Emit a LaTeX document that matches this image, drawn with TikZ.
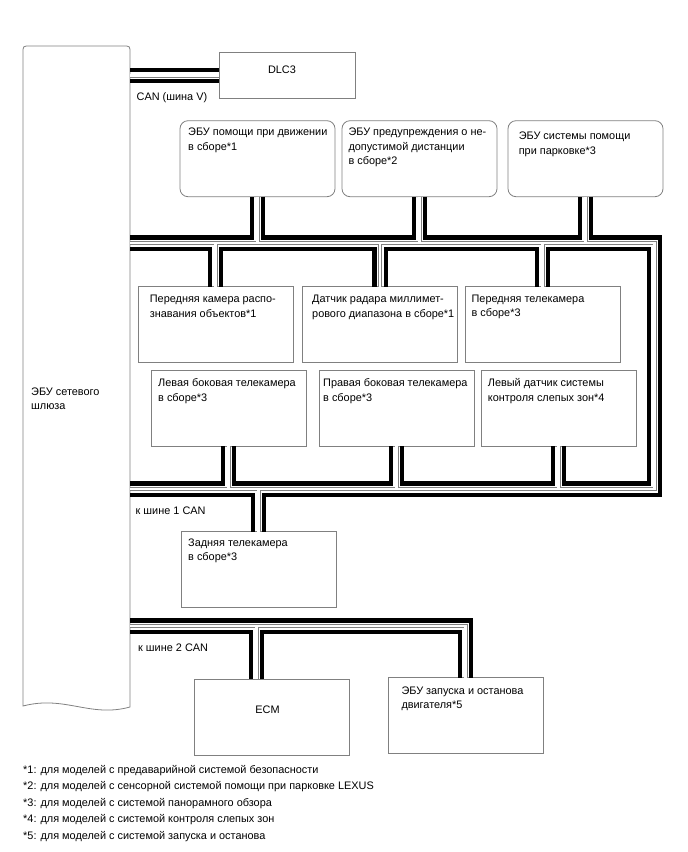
\documentclass[tikz,border=0pt]{standalone}
\usepackage{fontspec}
\setmainfont{Liberation Sans}
\usetikzlibrary{calc}
\def\wof{5.6}
\begin{document}
\begin{tikzpicture}[x=1pt,y=-1pt,
  wire/.style={line width=4.2pt,line join=miter,line cap=butt},
  band/.style={draw=gray,line width=0.8pt,double=white,double distance=2.4pt,line join=miter,line cap=butt},
  box/.style={draw=gray,line width=0.8pt,minimum width=155pt,minimum height=76pt,anchor=north west,inner sep=0pt,outer sep=0pt},
  rbox/.style={box,rounded corners=8pt},
  txt/.style={anchor=north west,inner sep=0pt,align=left,font=\fontsize{10.9}{14.5}\selectfont,execute at begin node={\rule{0pt}{8pt}}},
  ctxt/.style={inner sep=0pt,font=\fontsize{10.9}{14.5}\selectfont},
  shape gw/.style={draw=gray,line width=0.8pt}
]
\useasboundingbox (0,0) rectangle (688,852);

% gateway
\draw[shape gw] (23,706) -- (23,53) .. controls (23,46) .. (30,46) -- (123,46)
   .. controls (130,46) .. (130,53) -- (130,707) .. controls (90,718) and (65,695) .. (23,706) -- cycle;
\coordinate (gw) at (130,0);
\node[txt] (tgw) at (31,387.6) {ЭБУ сетевого\\шлюза};

% boxes
\node[box,minimum width=136pt,minimum height=46pt] (dlc) at (219,52.3) {};
\node[ctxt] (tdlc) at (282,69.3) {DLC3};

\node[rbox] (A) at (180,120.7) {};
\node[rbox] (B) at (342,120.7) {};
\node[rbox] (C) at (508,120.7) {};
\node[box] (M1) at (138,286.7) {};
\node[box] (M2) at (302.5,286.7) {};
\node[box] (M3) at (465,286.7) {};
\node[box] (L1) at (151,370) {};
\node[box] (L2) at (319,370) {};
\node[box] (L3) at (481,370) {};
\node[box] (R) at (181,531.7) {};
\node[box] (E) at (194.5,679.3) {};
\node[box] (G) at (388,677.7) {};

% texts
\node[txt] (tA) at (188,128) {ЭБУ помощи при движении\\в сборе*1};
\node[txt] (tB) at (348.3,128) {ЭБУ предупреждения о не-\\допустимой дистанции\\в сборе*2};
\node[txt] (tC) at (518.6,132) {ЭБУ системы помощи\\при парковке*3};
\node[txt] (tM1) at (149.7,295) {Передняя камера распо-\\знавания объектов*1};
\node[txt] (tM2) at (312,295) {Датчик радара миллимет-\\рового диапазона в сборе*1};
\node[txt] (tM3) at (471.4,294.5) {Передняя телекамера\\в сборе*3};
\node[txt] (tL1) at (158,378.5) {Левая боковая телекамера\\в сборе*3};
\node[txt] (tL2) at (323,378.5) {Правая боковая телекамера\\в сборе*3};
\node[txt] (tL3) at (487.7,378.5) {Левый датчик системы\\контроля слепых зон*4};
\node[txt] (tR) at (188,538.5) {Задняя телекамера\\в сборе*3};
\node[txt] (tG) at (401.3,686.5) {ЭБУ запуска и останова\\двигателя*5};
\node[ctxt] (tE) at (267.5,709.3) {ECM};
\node[txt] (lv) at (136.5,92) {CAN (шина V)};
\node[txt] (l1) at (135.5,506) {к шине 1 CAN};
\node[txt] (l2) at (138,643) {к шине 2 CAN};
\node[txt,font=\fontsize{10.9}{16.5}\selectfont] (notes) at (23,765) {*1: для моделей с предаварийной системой безопасности\\
*2: для моделей с сенсорной системой помощи при парковке LEXUS\\
*3: для моделей с системой панорамного обзора\\
*4: для моделей с системой контроля слепых зон\\
*5: для моделей с системой запуска и останова};

% levels
\coordinate (v1) at (0,69.9); \coordinate (v0) at (0,75.5); \coordinate (v2) at (0,81.1);
\coordinate (t1) at (0,237.4); \coordinate (t0) at (0,243); \coordinate (t2) at (0,248.6);
\coordinate (b1) at (0,483.4); \coordinate (b0) at (0,489); \coordinate (b2) at (0,494.6);
\coordinate (r1) at (660.1,0); \coordinate (r0) at (654.5,0); \coordinate (r2) at (648.9,0);
\coordinate (c1) at (0,620.4); \coordinate (c0) at (0,626); \coordinate (c2) at (0,631.6);

% stub points
\foreach \n in {A,B,C,L1,L2,L3}{
  \coordinate (\n0) at (\n.south);
  \coordinate (\n a) at ([xshift=-\wof pt]\n.south);
  \coordinate (\n b) at ([xshift=\wof pt]\n.south);
}
\foreach \n in {M1,M2,M3,R,G}{
  \coordinate (\n0) at (\n.north);
  \coordinate (\n a) at ([xshift=-\wof pt]\n.north);
  \coordinate (\n b) at ([xshift=\wof pt]\n.north);
}
\coordinate (E0) at ([xshift=-15.5pt]E.north);
\coordinate (Ea) at ([xshift=-15.5pt-\wof pt]E.north);
\coordinate (Eb) at ([xshift=-15.5pt+\wof pt]E.north);

% CAN V bus
\draw[band] (gw |- v0) -- (dlc.west |- v0);
\draw[wire] (gw |- v1) -- (dlc.west |- v1);
\draw[wire] (gw |- v2) -- (dlc.west |- v2);

% CAN 1 bus
\draw[band] (gw |- t0) -- (r0 |- t0) -- (r0 |- b0) -- (gw |- b0)
  (A0) -- (A0 |- t0) (B0) -- (B0 |- t0) (C0) -- (C0 |- t0)
  (M10) -- (M10 |- t0) (M20) -- (M20 |- t0) (M30) -- (M30 |- t0)
  (L10) -- (L10 |- b0) (L20) -- (L20 |- b0) (L30) -- (L30 |- b0)
  (R0) -- (R0 |- b0);
\draw[wire] (gw |- t1) -- (Aa |- t1) -- (Aa);
\draw[wire] (Ab) -- (Ab |- t1) -- (Ba |- t1) -- (Ba);
\draw[wire] (Bb) -- (Bb |- t1) -- (Ca |- t1) -- (Ca);
\draw[wire] (Cb) -- (Cb |- t1) -- (r1 |- t1) -- (r1 |- b2) -- (Rb |- b2) -- (Rb);
\draw[wire] (Ra) -- (Ra |- b2) -- (gw |- b2);
\draw[wire] (gw |- t2) -- (M1a |- t2) -- (M1a);
\draw[wire] (M1b) -- (M1b |- t2) -- (M2a |- t2) -- (M2a);
\draw[wire] (M2b) -- (M2b |- t2) -- (M3a |- t2) -- (M3a);
\draw[wire] (M3b) -- (M3b |- t2) -- (r2 |- t2) -- (r2 |- b1) -- (L3b |- b1) -- (L3b);
\draw[wire] (L3a) -- (L3a |- b1) -- (L2b |- b1) -- (L2b);
\draw[wire] (L2a) -- (L2a |- b1) -- (L1b |- b1) -- (L1b);
\draw[wire] (L1a) -- (L1a |- b1) -- (gw |- b1);

% CAN 2 bus
\draw[band] (gw |- c0) -- (G0 |- c0) -- (G0) (E0) -- (E0 |- c0);
\draw[wire] (gw |- c1) -- (Gb |- c1) -- (Gb);
\draw[wire] (gw |- c2) -- (Ea |- c2) -- (Ea);
\draw[wire] (Eb) -- (Eb |- c2) -- (Ga |- c2) -- (Ga);
\end{tikzpicture}
\end{document}
